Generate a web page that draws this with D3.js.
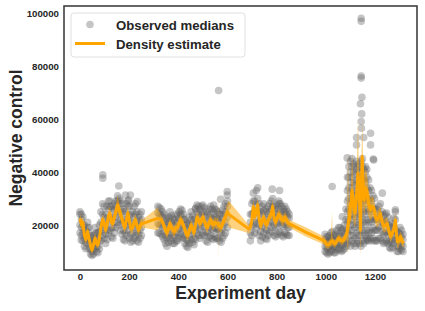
<!DOCTYPE html>
<html>
<head>
<meta charset="utf-8">
<script src="https://cdn.jsdelivr.net/npm/d3@7"></script>
<style>
body{margin:0;background:#fff;}
text{font-family:"Liberation Sans",Arial,sans-serif;font-weight:bold;fill:#262626;}
</style>
</head>
<body>
<script>
// values are in thousands (k), days are experiment days
var xTicks=[0,200,400,600,800,1000,1200];
var yTicks=[20000,40000,60000,80000,100000];
var legendLabels=['Observed medians','Density estimate'];

// observed medians: [day, value, value, ...]
var obsRows=[
    [0,17,20,24,25],[6,16,19,22,24],[12,17,20,23,14],[18,12,15,18,20],[24,11,13.5,16,18],
    [31,13,16,19,21],[37,11,14,17,19],[43,9,11,14,16],[49,8.5,10,12.5,15],[55,9,11.5,14,16],
    [61,11,13.5,16.5,19],[67,10,12,15,17],[73,9.5,12,14.5,17],[79,11,14,17.5,20],[85,14,17.5,21,25],
    [92,16,20,24,28],[98,15,19,23,27],[104,13,16.5,20,24],[110,14.5,18,22.5,27],[116,17,21.5,26,29],
    [122,18,22,27,29],[128,15.5,19,23,27],[134,15,19,23,26],[140,17,21,25.5,28],[146,19,23,27,29],
    [153,21,25,29,31],[159,20,24,28,30],[165,18,22,26,29],[171,16.5,20.5,25,28],[177,14.5,18,22,26],
    [183,14,17,21,25],[189,16,20,24,28],[195,18,22,27,29],[201,15,19.5,23.5,27],[207,13.5,16.5,20.5,24],
    [214,14,17,21,25],[220,15,19,23,27],[226,16,20,24,28],[232,14,17.5,21.5,25],[238,13.5,16.5,20,23],
    [244,15,18,21.5,24],[250,16,19,22,25],
    [317,17,20.5,24.5,27],[323,17,20,24,26.5],[330,16.5,20,23.5,26],[336,15.5,19,23,25],[342,14.5,17.5,21,24],
    [348,13,16,20,22.5],[354,12,15,19,21.5],[360,13.5,16.5,20.5,23],[366,15,18.5,22.5,25],[372,14,17,21,23.5],
    [378,13,16,20,22.5],[384,13,15.5,19.5,22],[391,14,17,21,24],[397,14,17,21,23.5],[403,15,18.5,22.5,25],
    [409,16.5,20,24,26],[415,15.5,19,23,25.5],[421,15,18,22,24],[427,13,16,20,22],[433,12,14.5,18.5,21],
    [439,11.5,14,18,20.5],[445,13,16,20,23],[452,14.5,18,22,25],[458,13.5,16.5,20.5,23.5],[464,12.5,15,19,22],
    [470,14.5,18,22.5,26],[476,17,21,25,27.5],[482,16,20,24,27],[488,15,18.5,23,26],[494,16,19.5,24,27],
    [500,17,21,25,27.5],[506,16,19.5,23.5,26.5],[513,14,17.5,21.5,25],[519,13.5,17,21,24],[525,15.5,19,23,26],
    [531,16,20,24,27],[537,15,18.5,22.5,26],[543,14.5,18,22,25],[549,15.5,19,23,26],[555,15,18.5,22.5,25.5],
    [561,15,18.5,22.5,25],[567,14,17.5,21.5,24],[574,13.5,17,21,24],[580,15,18.5,22.5,25.5],[586,16,20,24,27],
    [592,17,21,25,28],[600,19,23,27,29],
    [693,14,17,21,24],[699,16,19.5,24,28],[705,20,24.5,29,32],[711,17,21,25.5,29],[717,18.5,22.5,27.5,33],
    [723,20.5,25,30,34],[729,16,20,24.5,28],[735,14,17.5,22,25],[741,15.5,19.5,24,27],[747,17,21,25.5,28],
    [754,15,18.5,23,26],[760,14.5,18,22,25],[766,16,20,24,27],[772,17,21,25,28],[778,17.5,21.5,26,29],
    [784,19,23,27,30],[790,16,20,24,27],[796,15.5,19,23,26],[802,16.5,20.5,24.5,27.5],[809,17.5,21.5,26,29],
    [815,17,21,25,28],[821,16,20,24,27],[827,15.5,19.5,23.5,26],[833,17,21,25,27],[839,16.5,20,24,26],
    [845,16,19,23,25],[851,16,19,22.5,24],
    [997,10,12,14.5,16.5],[1003,9.5,11.5,13.5,15.5],[1009,9,11,13.5,15.5],[1015,9.5,12,14,16],[1021,10,12,15,17],
    [1027,10.5,12.5,15,17.5],[1033,9.5,12,14,16],[1039,9.5,11.5,14,16.5],[1045,10.5,12.5,15.5,18],[1052,11,13.5,16.5,19],
    [1058,10.5,13,16,19],[1064,10,12.5,15.5,18],[1070,10.5,12.5,15.5,18.5],[1076,11,13.5,17,20],[1082,12,14.5,18,22,26],
    [1088,13,17,21,25,29,33,38],[1094,14,18,22,26,30,34,38,42],[1100,12,16,20,24,28,32,36,40,44],
    [1106,14,18,22,26,30,34,38,42,45],[1113,13,16,20,24,28,32,36,40,43],[1119,12,15,19,23,27,31,35,39,42],
    [1125,13,17,21,25,29,33,37,41,44],[1131,14,16,20,24,28,32,36,40,43],[1137,13,18,22,26,30,34,38,42],
    [1143,12,16,20,24,28,32,36,40,44],[1149,14,18,22,26,30,34,38,42,45],[1155,13,17,21,25,29,33,37,41],
    [1161,14,16,20,24,28,32,36,40,42],[1167,15,18,22,26,30,34,38,41],[1174,14,17,21,25,29,33,37],
    [1180,15,18,22,26,30,34],[1186,14,17,21,25,29,33],[1192,15,19,23,27,31],[1198,14,18,22,26,30],
    [1204,14,18,22,26],[1210,14,18,22,25.5],[1216,15,19,23,27],[1222,15,19.5,24,28],[1229,14,17.5,21.5,25],
    [1235,13,16.5,20.5,23.5],[1241,13.5,17,21,24],[1247,14,17.5,21.5,24.5],[1253,13,16,20,23],[1259,11.5,14,17.5,20],
    [1265,11,13.5,16.5,19],[1271,11.5,14,17.5,20.5],[1277,13,16,19.5,22.5],[1283,14.5,18,22,25],[1290,10,12,15,17.5],
    [1296,10,12,15,17],[1302,11,13.5,16.5,19],[1308,10.5,12.5,15.5,18],[1314,10,12,14.5,16.5]
];
// the odd ones sitting away from the cloud
var outliers=[
    [5,14.3],[93,38.9],[93,37.6],[158,34.7],[185,31.3],[205,31.3],[198,29.4],[233,28.8],
    [470,26.3],[544,27.5],[572,29.7],[599,32.6],[599,31.3],[564,70.7],[782,33.5],[812,33],[809,28.2],
    [1026,34.5],[1067,23.1],[1144,98],[1144,96.8],[1144,76.2],[1144,75.4],[1147,68.2],[1141,65.7],
    [1146,61.9],[1144,59],[1145,56.5],[1182,54.6],[1125,53],[1154,53],[1125,50.2],[1182,50.2],
    [1087,45.3],[1193,44.9],[1169,14.3],[1283,25.7],[1230,32],[1195,44.5]
];

// density estimate: [day, mid, lo, hi]
var estRows=[
    [0,22.5,20.5,24.5],[6,20,18,22],[12,21,19,23],[18,16,14,18],[24,14.5,12.5,16.5],[31,17.5,15.5,19.5],
    [37,15,13,17],[43,12,10.5,14],[49,10.5,9,12.5],[55,12.5,11,14.5],[61,15,13,17],[67,13,11.5,15],
    [73,12.5,11,14.5],[79,15,13,17],[85,19,17,21],[92,22,20,24],[98,21,19,23],[104,18,16,20],
    [110,20,18,22.5],[116,23.5,21,26],[122,24.5,22,27],[128,21,19,23.5],[134,20.5,18.5,23],[140,23,21,25.5],
    [146,25,22.5,27.5],[153,27.5,25,31],[159,26,23.5,28.5],[165,24,21.5,26.5],[171,22.5,20,25],[177,20,18,22],
    [183,19,17,21],[189,22,20,24.5],[195,24.5,22,27],[201,21.5,19.5,24],[207,18.5,16.5,20.5],[214,19,17,21],
    [220,21,19,23],[226,22,20,24],[232,19.5,17.5,21.5],[238,18,16,20],[244,19.5,17.5,21.5],[250,20.5,18.5,22.5],
    [254,20.5,19,22],[315,22.5,18,26.5],
    [331,22,20.5,23.5],[336,21,19,23],[342,19.5,17.5,21.5],[348,18,16,20],[354,17,15,19],[360,18.5,16.5,20.5],
    [366,20.5,18.5,22.5],[372,19,17,21],[378,18,16,20],[384,17.5,15.5,19.5],[391,19,17,21],[397,19,17,21],
    [403,20.5,18.5,22.5],[409,22,20,24],[415,21,19,23],[421,20,18,22],[427,18,16,20],[433,16.5,14.5,18.5],
    [439,16,14,18],[445,18,16,20],[452,20,18,22],[458,18.5,16.5,20.5],[464,17,15,19],[470,20,18,22],
    [476,23,21,25],[482,22,20,24],[488,20.5,18.5,22.5],[494,21.5,19.5,23.5],[500,23,21,25],[506,21.5,19.5,23.5],
    [513,19.5,17.5,21.5],[519,19,17,21],[525,21,19,23],[531,22,20,24],[537,20.5,18.5,22.5],[543,20,18,22],
    [549,21,19,23],[555,20.5,18.5,22.5],[561,20.5,18.5,22.5],[562,20.5,7,32],[563,20,18,22],[567,19.5,17.5,21.5],
    [574,19,17,21],[580,20.5,18.5,22.5],[586,22,20,24],[592,23,20.5,25.5],[600,25,21,28.5],[606,24,19,29],
    [686,18.5,17,20],
    [693,19,17,21],[699,21.5,19.5,24],[705,27,24,29.5],[711,23,21,25.5],[717,25,22.5,27.5],[723,27.5,25,30],
    [729,22,20,24.5],[735,19.5,17.5,21.5],[741,21.5,19.5,23.5],[747,23,21,25],[754,20.5,18.5,22.5],[760,20,18,22],
    [766,22,20,24],[772,23,21,25],[778,24,22,26.5],[784,27,24,29.5],[790,22,20,24],[796,21,19,23],
    [802,22.5,20.5,24.5],[809,24,22,26],[815,23,21,25],[821,22,20,24],[827,21.5,19.5,23.5],[833,23,21,25],
    [839,22,20,24],[845,21,19,23],[851,20.5,19,22],[920,17.2,15.5,19],
    [995,14,12.5,15.5],[999,13.1,11.5,14.5],[1005,12.5,11,14],[1012,12.5,11,14],[1020,13.5,12,15],[1026,14,12,25],
    [1027,14,12.5,15.5],[1033,13,11.5,14.5],[1039,13,11.5,14.5],[1045,14,12.5,15.5],[1052,15,13.5,16.5],[1058,14.5,13,16],
    [1064,14,12.5,15.5],[1070,14,12.5,15.5],[1076,15,13.5,16.5],[1082,16,14,18],[1086,17,14,20],[1090,20,9,47],
    [1094,22,18,27],[1096,22,17,28],[1100,28,22,34],[1102,27,20,33],[1107,33,25,47],[1113,27,21,33],
    [1119,24.4,19,30],[1125,31,24,38],[1131,39.5,30,60],[1134,36,28,44],[1137,30,22,38],[1141,18,8,30],
    [1145,36,27,45],[1148,45.8,35,60],[1152,35,27,43],[1156,29.4,23,36],[1161,34,27,41],[1167,33,26,40],
    [1174,28,23,33],[1182,25.7,21.5,30],[1188,27,23,31],[1195,26.6,23,30],[1202,23,20,26],[1209,21.9,19,25],
    [1216,23,20,26],[1222,24.4,21.5,27],[1229,21,18.5,23.5],[1236,19.4,17,22],[1243,20,17.5,22.5],[1250,20.6,18,23],
    [1256,18,16,20],[1263,15.6,13.5,17.5],[1269,16.5,14.5,18.5],[1276,18,16,20],[1283,21.9,19.5,24.5],[1288,16,14,18],
    [1291,13.7,10.6,16],[1297,14,12,16],[1304,15.6,13.5,17.5],[1310,14,12,16],[1317,13.1,11.5,15]
];

var W=425,H=311;
var mLeft=64,mRight=417,mTop=6,mBottom=270;
var orange='#ffa500';
var dotColor='#5e5e5e';

var svg=d3.select('body').append('svg').attr('width',W).attr('height',H);
svg.append('rect').attr('width',W).attr('height',H).attr('fill','#fff');

var x=d3.scaleLinear().domain([-65,1371]).range([mLeft,mRight]);
var y=d3.scaleLinear().domain([3000,102600]).range([mBottom,mTop]);

// flatten rows into points (k -> real units)
var points=[];
obsRows.concat(outliers).forEach(function(r){
    for(var i=1;i<r.length;i++) points.push([r[0],r[i]*1000]);
});

var plot=svg.append('g');
plot.selectAll('circle.obs').data(points).enter().append('circle')
    .attr('class','obs')
    .attr('cx',function(d){return x(d[0]);})
    .attr('cy',function(d){return y(d[1]);})
    .attr('r',3.8)
    .attr('fill',dotColor)
    .attr('fill-opacity',0.36);

var area=d3.area()
    .x(function(d){return x(d[0]);})
    .y0(function(d){return y(d[2]*1000);})
    .y1(function(d){return y(d[3]*1000);});
plot.append('path').datum(estRows)
    .attr('d',area)
    .attr('fill',orange)
    .attr('fill-opacity',0.5);

var line=d3.line()
    .x(function(d){return x(d[0]);})
    .y(function(d){return y(d[1]*1000);});
plot.append('path').datum(estRows)
    .attr('d',line)
    .attr('fill','none')
    .attr('stroke',orange)
    .attr('stroke-width',3)
    .attr('stroke-linejoin','round');

// axes, no tick marks, just labels
var xAxis=svg.append('g').attr('transform','translate(0,'+mBottom+')')
    .call(d3.axisBottom(x).tickValues(xTicks).tickSize(0).tickPadding(3).tickFormat(d3.format('d')));
var yAxis=svg.append('g').attr('transform','translate('+mLeft+',0)')
    .call(d3.axisLeft(y).tickValues(yTicks).tickSize(0).tickPadding(5).tickFormat(d3.format('d')));
[xAxis,yAxis].forEach(function(a){
    a.select('.domain').remove();
    a.selectAll('text').style('font-size','9.7px').attr('fill','#262626');
});

svg.append('rect')
    .attr('x',mLeft).attr('y',mTop)
    .attr('width',mRight-mLeft).attr('height',mBottom-mTop)
    .attr('fill','none').attr('stroke','#333').attr('stroke-width',1.5);

svg.append('text').attr('x',(mLeft+mRight)/2).attr('y',299)
    .attr('text-anchor','middle').style('font-size','17.5px')
    .text('Experiment day');
svg.append('text').attr('transform','translate(21.5,'+((mTop+mBottom)/2)+') rotate(-90)')
    .attr('text-anchor','middle').style('font-size','17.5px')
    .text('Negative control');

// legend
var lg=svg.append('g');
lg.append('rect').attr('x',71).attr('y',13).attr('width',174).attr('height',44).attr('rx',3)
    .attr('fill','#fff').attr('fill-opacity',0.8).attr('stroke','#d8d8d8').attr('stroke-width',0.8);
lg.append('circle').attr('cx',90).attr('cy',24.5).attr('r',3.8)
    .attr('fill',dotColor).attr('fill-opacity',0.36);
lg.append('line').attr('x1',75).attr('x2',105).attr('y1',43.5).attr('y2',43.5)
    .attr('stroke',orange).attr('stroke-width',3);
lg.selectAll('text.lab').data(legendLabels).enter().append('text')
    .attr('class','lab')
    .attr('x',116)
    .attr('y',function(d,i){return 29.5+i*19.5;})
    .style('font-size','13.2px')
    .text(function(d){return d;});
</script>
</body>
</html>
